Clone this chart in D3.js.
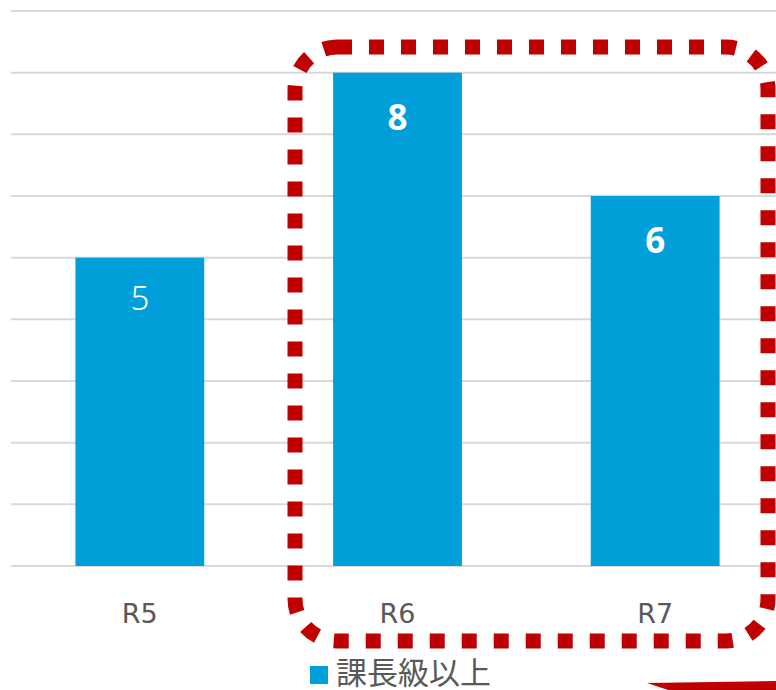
<!DOCTYPE html>
<html>
<head>
<meta charset="utf-8">
<script src="https://cdn.jsdelivr.net/npm/d3@7"></script>
<style>
  body { margin: 0; background: #fff; }
  svg { display: block; font-family: "Noto Sans", "Noto Sans CJK JP", sans-serif; }
</style>
</head>
<body>
<svg id="chart" width="776" height="690"></svg>
<script>
// chart data
const categories = ["R5", "R6", "R7"];
const values = [5, 8, 6];
const boldLabel = [false, true, true];
const seriesName = "課長級以上";
const yTicks = [0, 1, 2, 3, 4, 5, 6, 7, 8, 9];

const width = 776;
const height = 690;
const marginLeft = 11;
const plotRight = 784; // plot runs past the right edge of the picture
const plotTop = 11;
const plotBottom = 566;

const svg = d3.select('#chart');

const xScale = d3.scaleBand()
  .domain(categories)
  .range([marginLeft, plotRight])
  .paddingInner(0.5)
  .paddingOuter(0.25);

const yScale = d3.scaleLinear()
  .domain([0, 9])
  .range([plotBottom, plotTop]);

// horizontal gridlines
svg.append('g')
  .selectAll('line')
  .data(yTicks)
  .enter()
  .append('line')
  .attr('x1', marginLeft)
  .attr('x2', width)
  .attr('y1', d => yScale(d))
  .attr('y2', d => yScale(d))
  .attr('stroke', '#d9d9d9')
  .attr('stroke-width', 2);

// bars
const barGroups = svg.selectAll('.bar')
  .data(categories.map((c, i) => ({ name: c, value: values[i], bold: boldLabel[i] })))
  .enter()
  .append('g');

barGroups.append('rect')
  .attr('x', d => xScale(d.name))
  .attr('y', d => yScale(d.value))
  .attr('width', xScale.bandwidth())
  .attr('height', d => yScale(0) - yScale(d.value))
  .attr('fill', '#009fda');

barGroups.append('text')
  .attr('x', d => xScale(d.name) + xScale.bandwidth() / 2)
  .attr('y', d => yScale(d.value) + (d.bold ? 57 : 52))
  .attr('text-anchor', 'middle')
  .attr('fill', '#fff')
  .attr('font-size', d => d.bold ? 35 : 33)
  .attr('font-weight', d => d.bold ? 'bold' : 300)
  .text(d => d.value);

// x axis labels
svg.append('g')
  .selectAll('text')
  .data(categories)
  .enter()
  .append('text')
  .attr('x', d => xScale(d) + xScale.bandwidth() / 2)
  .attr('y', 623)
  .attr('text-anchor', 'middle')
  .attr('fill', '#595959')
  .attr('font-size', 27)
  .attr('font-family', '"DejaVu Sans", sans-serif')
  .text(d => d);

// legend
svg.append('rect')
  .attr('x', 310)
  .attr('y', 666)
  .attr('width', 18)
  .attr('height', 18)
  .attr('fill', '#009fda');

svg.append('text')
  .attr('x', 336)
  .attr('y', 684)
  .attr('fill', '#595959')
  .attr('font-size', 31)
  .attr('font-family', '"Noto Sans CJK JP", sans-serif')
  .text(seriesName);

// red dotted highlight around R6 and R7
svg.append('rect')
  .attr('x', 295)
  .attr('y', 47)
  .attr('width', 473)
  .attr('height', 594)
  .attr('rx', 42)
  .attr('fill', 'none')
  .attr('stroke', '#c00000')
  .attr('stroke-width', 15)
  .attr('stroke-dasharray', '15 17');

// bit of red arrow peeking in at bottom right
svg.append('path')
  .attr('d', 'M647,683 L776,681 L776,690 L668,690 Z')
  .attr('fill', '#c00000');
</script>
</body>
</html>
